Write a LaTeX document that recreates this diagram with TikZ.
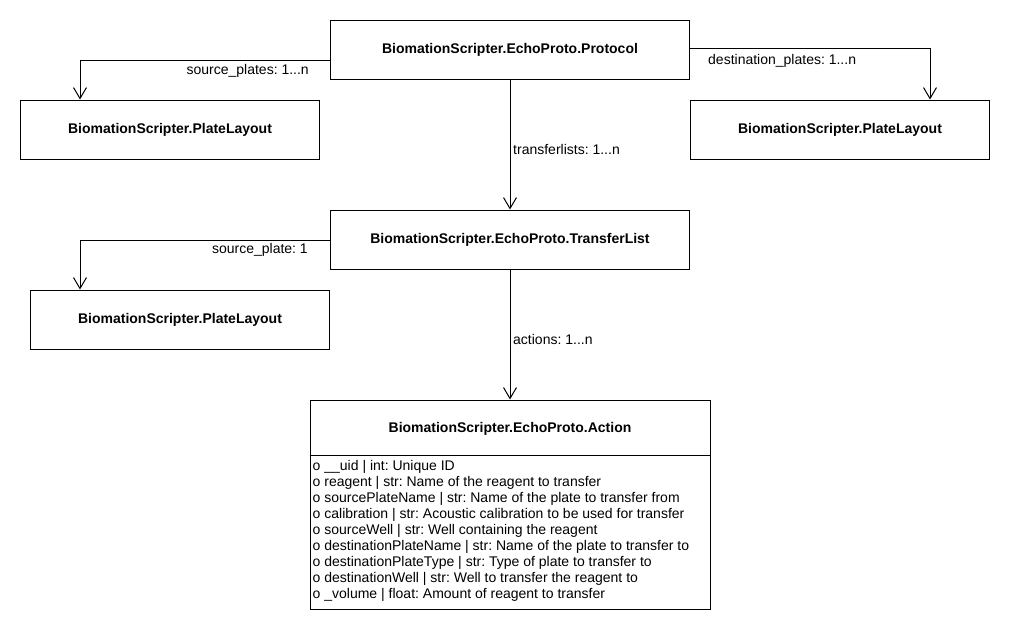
\documentclass[tikz,border=0pt]{standalone}
\usepackage{fontspec}
\setmainfont{Liberation Sans}
\usetikzlibrary{arrows.meta}
\frenchspacing
\begin{document}
\begin{tikzpicture}[x=1pt,y=-1pt,
  cls/.style={draw,line width=1pt,rectangle,inner sep=0pt,font=\fontsize{14}{16}\selectfont\bfseries},
  lbl/.style={inner sep=0pt,font=\fontsize{14}{16}\selectfont},
  conn/.style={line width=1pt,-{Straight Barb[length=11pt,width=13pt,line width=1pt]}}]
\useasboundingbox (0,0) rectangle (1010,630);
\node[cls,minimum width=359pt,minimum height=59pt] (proto) at (510,49.5) {BiomationScripter.EchoProto.Protocol};
\node[cls,minimum width=299pt,minimum height=59pt] (plL) at (170,129.5) {BiomationScripter.PlateLayout};
\node[cls,minimum width=299pt,minimum height=59pt] (plR) at (840,129.5) {BiomationScripter.PlateLayout};
\node[cls,minimum width=359pt,minimum height=59pt] (tl) at (510,239.5) {BiomationScripter.EchoProto.TransferList};
\node[cls,minimum width=299pt,minimum height=59pt] (plL2) at (180,319.5) {BiomationScripter.PlateLayout};
\node[draw,line width=1pt,rectangle,inner sep=0pt,minimum width=400pt,minimum height=209pt] (action) at (510,504.5) {};
\node[lbl,font=\fontsize{14}{16}\selectfont\bfseries] (acthead) at (510,429) {BiomationScripter.EchoProto.Action};
\coordinate (sepL) at (310,455);
\coordinate (sepR) at (710,455);
\draw[line width=1pt] (action.west |- sepL) -- (action.east |- sepR);
\node[lbl,anchor=north west,align=left,font=\fontsize{14}{16}\selectfont] (attrs) at (312.5,460.5) {%
o \_\_uid | int: Unique ID\\
o reagent | str: Name of the reagent to transfer\\
o sourcePlateName | str: Name of the plate to transfer from\\
o calibration | str: Acoustic calibration to be used for transfer\\
o sourceWell | str: Well containing the reagent\\
o destinationPlateName | str: Name of the plate to transfer to\\
o destinationPlateType | str: Type of plate to transfer to\\
o destinationWell | str: Well to transfer the reagent to\\
o \_volume | float: Amount of reagent to transfer};
\draw[conn] ([yshift=-11pt]proto.west) -| ([xshift=-90pt]plL.north);
\draw[conn] ([yshift=1.2pt]proto.east) -| ([xshift=90pt]plR.north);
\draw[conn] (proto.south) -- (tl.north);
\draw[conn] ([yshift=-0.5pt]tl.west) -| ([xshift=-100pt]plL2.north);
\draw[conn] (tl.south) -- (action.north);
\node[lbl,anchor=east] (lsp) at (309,71) {source\_plates: 1...n};
\node[lbl,anchor=west] (ldp) at (708,61) {destination\_plates: 1...n};
\node[lbl,anchor=west] (ltl) at (513,149) {transferlists: 1...n};
\node[lbl,anchor=east] (lsp1) at (308,250) {source\_plate: 1};
\node[lbl,anchor=west] (lac) at (513,339) {actions: 1...n};
\end{tikzpicture}
\end{document}
